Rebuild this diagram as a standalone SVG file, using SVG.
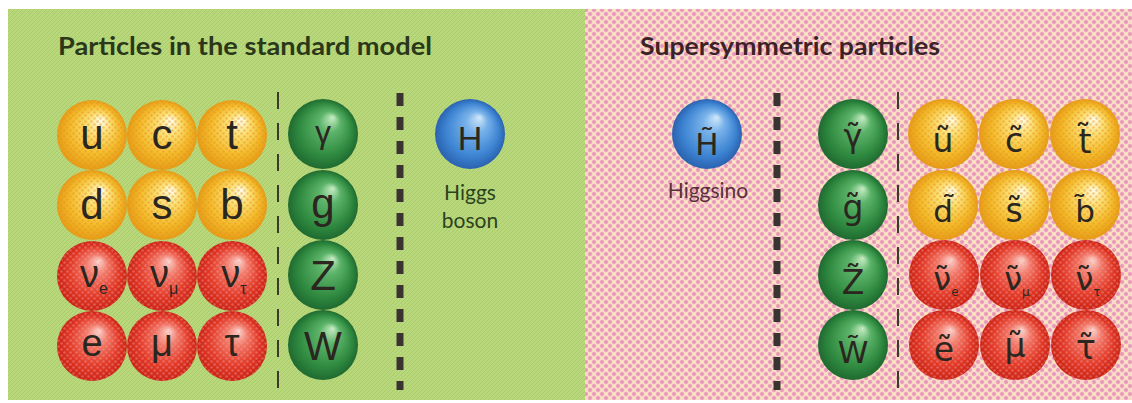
<svg xmlns="http://www.w3.org/2000/svg" width="1132" height="403" viewBox="0 0 1132 403">
<defs>
<style>
.t{font-family:"Liberation Sans",Arial,sans-serif;fill:#2b2620;text-anchor:middle}
.s{font-family:"DejaVu Sans",sans-serif;fill:#2b2620;text-anchor:middle}
.title{font-family:Lato,"Open Sans",sans-serif;font-weight:bold;font-size:24px}
.lab{font-family:Lato,"Open Sans",sans-serif;font-size:21px;text-anchor:middle}
.thin{stroke:#3b3a2c;stroke-width:2;stroke-dasharray:17 14;fill:none}
.thick{stroke:#3a3430;stroke-width:7;stroke-dasharray:13 11;fill:none}
</style>
<pattern id="pg" width="4" height="4" patternUnits="userSpaceOnUse">
<rect width="4" height="4" fill="#b8d87b"/>
<path d="M0 4 L4 0" stroke="#aacb6c" stroke-width="1"/>
</pattern>
<pattern id="pp" width="8" height="8" patternUnits="userSpaceOnUse">
<rect width="8" height="8" fill="#f9dac8"/>
<circle cx="2" cy="2" r="2" fill="#e898ba"/>
<circle cx="6" cy="6" r="2" fill="#e898ba"/>
<circle cx="6" cy="2" r="1.2" fill="#fbeab0"/>
</pattern>
<pattern id="dy" width="6" height="6" patternUnits="userSpaceOnUse">
<circle cx="1.5" cy="1.5" r="1.3" fill="#e8901e"/>
<circle cx="4.5" cy="4.5" r="1.3" fill="#e8901e"/>
</pattern>
<pattern id="dr" width="6" height="6" patternUnits="userSpaceOnUse">
<circle cx="1.5" cy="1.5" r="1.3" fill="#f4a0a8"/>
<circle cx="4.5" cy="4.5" r="1.3" fill="#f4a0a8"/>
</pattern>
<radialGradient id="gy" cx="0.5" cy="0.5" r="0.5" fx="0.64" fy="0.28">
<stop offset="0" stop-color="#fffdf0"/>
<stop offset="0.3" stop-color="#fbe27a"/>
<stop offset="0.7" stop-color="#f3bc2c"/>
<stop offset="1" stop-color="#e59c16"/>
</radialGradient>
<radialGradient id="gr" cx="0.5" cy="0.5" r="0.5" fx="0.6" fy="0.28">
<stop offset="0" stop-color="#fbd8d0"/>
<stop offset="0.3" stop-color="#f27a68"/>
<stop offset="0.7" stop-color="#e23a26"/>
<stop offset="1" stop-color="#cc2414"/>
</radialGradient>
<radialGradient id="gg" cx="0.5" cy="0.5" r="0.5" fx="0.64" fy="0.26">
<stop offset="0" stop-color="#c8ecc4"/>
<stop offset="0.3" stop-color="#5cb46a"/>
<stop offset="0.75" stop-color="#2f8a40"/>
<stop offset="1" stop-color="#1f6a30"/>
</radialGradient>
<radialGradient id="gb" cx="0.5" cy="0.5" r="0.5" fx="0.64" fy="0.26">
<stop offset="0" stop-color="#d0e8fa"/>
<stop offset="0.3" stop-color="#79b2ea"/>
<stop offset="0.75" stop-color="#3d84d2"/>
<stop offset="1" stop-color="#2a62b0"/>
</radialGradient>
</defs>

<rect width="1132" height="403" fill="#ffffff"/>
<g id="backgrounds">
<rect x="8" y="9" width="577" height="391" fill="url(#pg)"/>
<rect x="585" y="9" width="547" height="391" fill="url(#pp)"/>
</g>

<g id="titles">
<text id="title-sm" class="title" x="58" y="55" fill="#2a3719" textLength="374" lengthAdjust="spacingAndGlyphs">Particles in the standard model</text>
<text id="title-susy" class="title" x="640" y="55" fill="#3a2226" textLength="300" lengthAdjust="spacingAndGlyphs">Supersymmetric particles</text>
</g>

<g id="connectors">
<line class="thin" x1="278" y1="92" x2="278" y2="392"/>
<line class="thick" x1="400" y1="93" x2="400" y2="390"/>
<line class="thick" x1="777" y1="93" x2="777" y2="390"/>
<line class="thin" x1="898" y1="92" x2="898" y2="392"/>
</g>

<!-- Standard model quarks -->
<g id="u"><circle cx="92" cy="135" r="35" fill="url(#gy)"/><circle cx="92" cy="135" r="35" fill="url(#dy)" opacity="0.45"/><text class="t" x="92" y="149" font-size="42">u</text></g>
<g id="c"><circle cx="162" cy="135" r="35" fill="url(#gy)"/><circle cx="162" cy="135" r="35" fill="url(#dy)" opacity="0.45"/><text class="t" x="162" y="149" font-size="42">c</text></g>
<g id="t"><circle cx="232" cy="135" r="35" fill="url(#gy)"/><circle cx="232" cy="135" r="35" fill="url(#dy)" opacity="0.45"/><text class="t" x="232" y="149" font-size="42">t</text></g>
<g id="d"><circle cx="92" cy="205" r="35" fill="url(#gy)"/><circle cx="92" cy="205" r="35" fill="url(#dy)" opacity="0.45"/><text class="t" x="92" y="219" font-size="42">d</text></g>
<g id="s"><circle cx="162" cy="205" r="35" fill="url(#gy)"/><circle cx="162" cy="205" r="35" fill="url(#dy)" opacity="0.45"/><text class="t" x="162" y="219" font-size="42">s</text></g>
<g id="b"><circle cx="232" cy="205" r="35" fill="url(#gy)"/><circle cx="232" cy="205" r="35" fill="url(#dy)" opacity="0.45"/><text class="t" x="232" y="219" font-size="42">b</text></g>

<!-- Standard model leptons -->
<g id="nu-e"><circle cx="92" cy="276" r="35" fill="url(#gr)"/><circle cx="92" cy="276" r="35" fill="url(#dr)" opacity="0.4"/><text class="t" x="94" y="287" font-size="38">ν<tspan font-size="16" dy="7">e</tspan></text></g>
<g id="nu-mu"><circle cx="162" cy="276" r="35" fill="url(#gr)"/><circle cx="162" cy="276" r="35" fill="url(#dr)" opacity="0.4"/><text class="t" x="164" y="287" font-size="38">ν<tspan font-size="16" dy="7">μ</tspan></text></g>
<g id="nu-tau"><circle cx="232" cy="276" r="35" fill="url(#gr)"/><circle cx="232" cy="276" r="35" fill="url(#dr)" opacity="0.4"/><text class="t" x="234" y="287" font-size="38">ν<tspan font-size="16" dy="7">τ</tspan></text></g>
<g id="e"><circle cx="92" cy="346" r="35" fill="url(#gr)"/><circle cx="92" cy="346" r="35" fill="url(#dr)" opacity="0.4"/><text class="t" x="92" y="356" font-size="38">e</text></g>
<g id="mu"><circle cx="162" cy="346" r="35" fill="url(#gr)"/><circle cx="162" cy="346" r="35" fill="url(#dr)" opacity="0.4"/><text class="t" x="162" y="356" font-size="38">μ</text></g>
<g id="tau"><circle cx="232" cy="346" r="35" fill="url(#gr)"/><circle cx="232" cy="346" r="35" fill="url(#dr)" opacity="0.4"/><text class="t" x="232" y="356" font-size="38">τ</text></g>

<!-- Standard model gauge bosons -->
<g id="photon"><circle cx="323" cy="134" r="35" fill="url(#gg)"/><text class="t" x="323" y="143" font-size="32">γ</text></g>
<g id="gluon"><circle cx="323" cy="205" r="35" fill="url(#gg)"/><text class="t" x="323" y="218" font-size="42">g</text></g>
<g id="Z"><circle cx="323" cy="275" r="35" fill="url(#gg)"/><text class="t" x="323" y="290" font-size="42">Z</text></g>
<g id="W"><circle cx="323" cy="345" r="35" fill="url(#gg)"/><text class="t" x="323" y="360" font-size="40">W</text></g>

<!-- Higgs -->
<g id="higgs"><circle cx="470" cy="134" r="35" fill="url(#gb)"/><text class="t" x="470" y="150" font-size="34">H</text>
<text class="lab" x="470" y="200" fill="#2c431e">Higgs</text><text class="lab" x="470" y="228" fill="#2c431e">boson</text></g>

<!-- Higgsino -->
<g id="higgsino"><circle cx="707" cy="134" r="35" fill="url(#gb)"/><text class="s" x="707" y="155" font-size="31">H&#x303;</text>
<text class="lab" x="708" y="198" fill="#5a3038">Higgsino</text></g>

<!-- Gauginos -->
<g id="photino"><circle cx="853" cy="134" r="35" fill="url(#gg)"/><text class="s" x="853" y="147" font-size="32">γ&#x303;</text></g>
<g id="gluino"><circle cx="853" cy="205" r="35" fill="url(#gg)"/><text class="s" x="853" y="219" font-size="33">g&#x303;</text></g>
<g id="zino"><circle cx="853" cy="275" r="35" fill="url(#gg)"/><text class="s" x="853" y="294" font-size="33">Z&#x303;</text></g>
<g id="wino"><circle cx="853" cy="345" r="35" fill="url(#gg)"/><text class="s" x="853" y="363" font-size="31">W&#x303;</text></g>

<!-- Squarks -->
<g id="su"><circle cx="943" cy="134" r="35" fill="url(#gy)"/><circle cx="943" cy="134" r="35" fill="url(#dy)" opacity="0.45"/><text class="s" x="943" y="152" font-size="33">u&#x303;</text></g>
<g id="sc"><circle cx="1014" cy="134" r="35" fill="url(#gy)"/><circle cx="1014" cy="134" r="35" fill="url(#dy)" opacity="0.45"/><text class="s" x="1014" y="152" font-size="33">c&#x303;</text></g>
<g id="st"><circle cx="1085" cy="134" r="35" fill="url(#gy)"/><circle cx="1085" cy="134" r="35" fill="url(#dy)" opacity="0.45"/><text class="s" x="1085" y="153" font-size="33">t&#x303;</text></g>
<g id="sd"><circle cx="943" cy="205" r="35" fill="url(#gy)"/><circle cx="943" cy="205" r="35" fill="url(#dy)" opacity="0.45"/><text class="s" x="943" y="222" font-size="31">d&#x303;</text></g>
<g id="ss"><circle cx="1014" cy="205" r="35" fill="url(#gy)"/><circle cx="1014" cy="205" r="35" fill="url(#dy)" opacity="0.45"/><text class="s" x="1014" y="222" font-size="33">s&#x303;</text></g>
<g id="sb"><circle cx="1085" cy="205" r="35" fill="url(#gy)"/><circle cx="1085" cy="205" r="35" fill="url(#dy)" opacity="0.45"/><text class="s" x="1085" y="222" font-size="31">b&#x303;</text></g>

<!-- Sleptons -->
<g id="snu-e"><circle cx="944" cy="275" r="35" fill="url(#gr)"/><circle cx="944" cy="275" r="35" fill="url(#dr)" opacity="0.4"/><text class="s" x="946" y="290" font-size="32">ν&#x303;<tspan font-size="12" dy="6">e</tspan></text></g>
<g id="snu-mu"><circle cx="1015" cy="275" r="35" fill="url(#gr)"/><circle cx="1015" cy="275" r="35" fill="url(#dr)" opacity="0.4"/><text class="s" x="1017" y="290" font-size="32">ν&#x303;<tspan font-size="12" dy="6">μ</tspan></text></g>
<g id="snu-tau"><circle cx="1086" cy="275" r="35" fill="url(#gr)"/><circle cx="1086" cy="275" r="35" fill="url(#dr)" opacity="0.4"/><text class="s" x="1088" y="290" font-size="32">ν&#x303;<tspan font-size="12" dy="6">τ</tspan></text></g>
<g id="se"><circle cx="944" cy="345" r="35" fill="url(#gr)"/><circle cx="944" cy="345" r="35" fill="url(#dr)" opacity="0.4"/><text class="s" x="944" y="361" font-size="33">e&#x303;</text></g>
<g id="smu"><circle cx="1015" cy="345" r="35" fill="url(#gr)"/><circle cx="1015" cy="345" r="35" fill="url(#dr)" opacity="0.4"/><text class="s" x="1015" y="357" font-size="33">μ&#x303;</text></g>
<g id="stau"><circle cx="1086" cy="345" r="35" fill="url(#gr)"/><circle cx="1086" cy="345" r="35" fill="url(#dr)" opacity="0.4"/><text class="s" x="1086" y="359" font-size="33">τ&#x303;</text></g>
</svg>
